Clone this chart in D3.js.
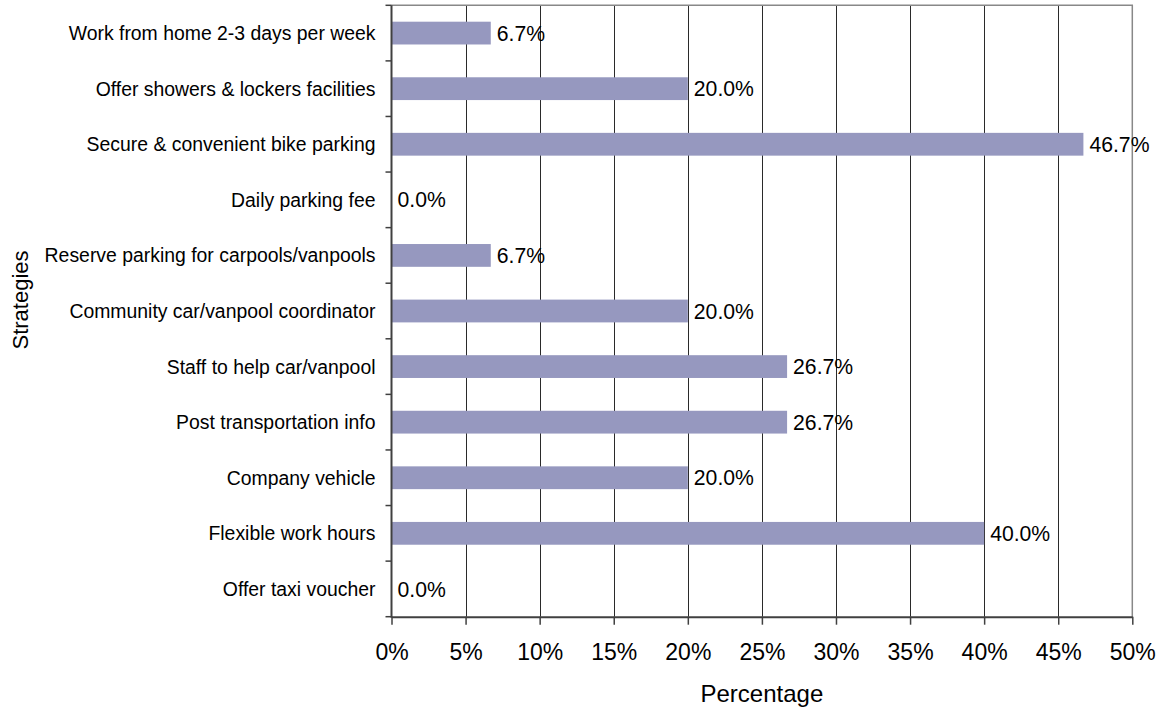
<!DOCTYPE html>
<html>
<head>
<meta charset="utf-8">
<script src="https://cdn.jsdelivr.net/npm/d3@7"></script>
<style>
  html, body { margin: 0; padding: 0; background: #fff; }
  svg { display: block; font-family: Arial, "Liberation Sans", sans-serif; }
</style>
</head>
<body>
<svg id="chart" width="1164" height="709"></svg>
<script>
// Strategies, listed top to bottom
const categories = [
  "Work from home 2-3 days per week",
  "Offer showers & lockers facilities",
  "Secure & convenient bike parking",
  "Daily parking fee",
  "Reserve parking for carpools/vanpools",
  "Community car/vanpool coordinator",
  "Staff to help car/vanpool",
  "Post transportation info",
  "Company vehicle",
  "Flexible work hours",
  "Offer taxi voucher"
];
// Share of respondents (%)
const values = [6.7, 20.0, 46.7, 0.0, 6.7, 20.0, 26.7, 26.7, 20.0, 40.0, 0.0];
const xTicks = [0, 5, 10, 15, 20, 25, 30, 35, 40, 45, 50];
const xTitle = "Percentage";
const yTitle = "Strategies";

const svg = d3.select("#chart");
const plotLeft = 391.5, plotRight = 1132.3, plotTop = 5.3, plotBottom = 616.7;

const x = d3.scaleLinear().domain([0, 50]).range([plotLeft, plotRight]);
const y = d3.scaleBand().domain(categories).range([plotTop, plotBottom]).paddingInner(0.59).paddingOuter(0.295);

// vertical gridlines
svg.append("g").selectAll("line")
  .data(xTicks.slice(1, -1))
  .join("line")
  .attr("x1", d => Math.round(x(d)) + 0.5).attr("x2", d => Math.round(x(d)) + 0.5)
  .attr("y1", plotTop).attr("y2", plotBottom)
  .attr("stroke", "#2a2a2a").attr("stroke-width", 1);

// plot frame: top and right edges
svg.append("path")
  .attr("d", `M${plotLeft},${plotTop}H${plotRight}V${plotBottom}`)
  .attr("fill", "none").attr("stroke", "#888").attr("stroke-width", 1.5);

// bars
svg.append("g").selectAll("rect")
  .data(categories.map((c, i) => ({ c, v: values[i] })))
  .join("rect")
  .attr("x", x(0))
  .attr("y", d => y(d.c))
  .attr("width", d => x(d.v) - x(0))
  .attr("height", y.bandwidth())
  .attr("fill", "#9698bf");

// value labels
svg.append("g").selectAll("text")
  .data(categories.map((c, i) => ({ c, v: values[i] })))
  .join("text")
  .attr("x", d => x(d.v) + 6)
  .attr("y", d => y(d.c) + y.bandwidth() / 2)
  .attr("dy", "0.36em")
  .attr("font-size", 21.2)
  .attr("fill", "#000")
  .text(d => d.v.toFixed(1) + "%");

// x axis
const xAxis = svg.append("g")
  .attr("transform", `translate(0,${plotBottom})`)
  .call(d3.axisBottom(x).tickValues(xTicks).tickFormat(d => d + "%").tickSize(8).tickPadding(19).tickSizeOuter(0));
xAxis.select(".domain").attr("stroke", "#404040").attr("stroke-width", 2);
xAxis.selectAll(".tick line").attr("stroke", "#404040").attr("stroke-width", 1.5);
xAxis.selectAll(".tick text").attr("font-size", 23).attr("fill", "#000").attr("font-family", "Arial, 'Liberation Sans', sans-serif");

// y axis, ticks at category boundaries
const boundaries = categories.map(c => y(c) - y.step() * y.paddingInner() / 2).concat([plotBottom]);
svg.append("g").selectAll("line")
  .data(boundaries)
  .join("line")
  .attr("x1", plotLeft - 6).attr("x2", plotLeft)
  .attr("y1", d => d).attr("y2", d => d)
  .attr("stroke", "#404040").attr("stroke-width", 1.5);
svg.append("line")
  .attr("x1", plotLeft).attr("x2", plotLeft)
  .attr("y1", plotTop).attr("y2", plotBottom + 1)
  .attr("stroke", "#404040").attr("stroke-width", 2);

// category labels
svg.append("g").selectAll("text")
  .data(categories)
  .join("text")
  .attr("x", 375.5)
  .attr("y", d => y(d) + y.bandwidth() / 2)
  .attr("dy", "0.36em")
  .attr("text-anchor", "end")
  .attr("font-size", 19.4)
  .attr("fill", "#000")
  .text(d => d);

// axis titles
svg.append("text")
  .attr("x", (plotLeft + plotRight) / 2)
  .attr("y", 701.5)
  .attr("text-anchor", "middle")
  .attr("font-size", 24)
  .attr("fill", "#000")
  .text(xTitle);

svg.append("text")
  .attr("transform", "translate(28,300) rotate(-90)")
  .attr("text-anchor", "middle")
  .attr("font-size", 22)
  .attr("fill", "#000")
  .text(yTitle);
</script>
</body>
</html>
